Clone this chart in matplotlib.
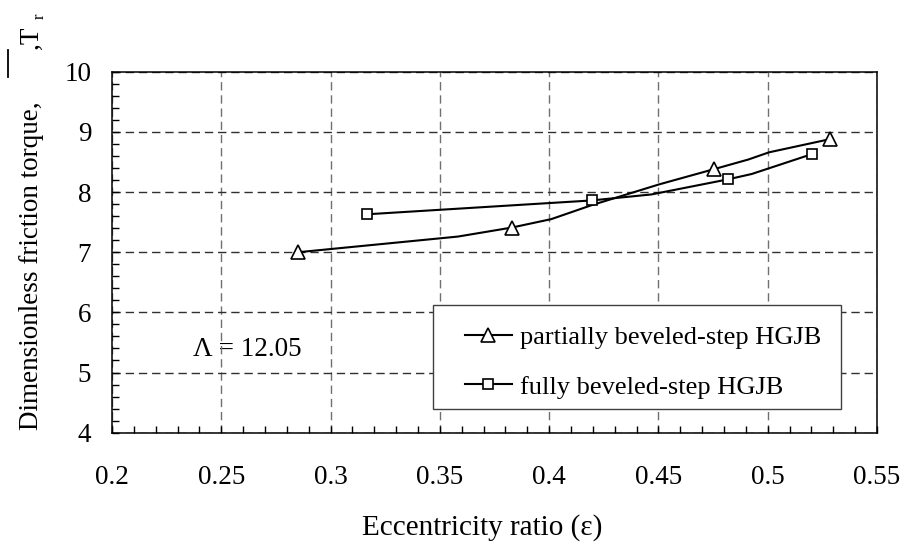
import matplotlib
matplotlib.use("Agg")
import matplotlib.pyplot as plt
from matplotlib.lines import Line2D
from matplotlib.patches import Rectangle
from matplotlib.ticker import MultipleLocator, FixedLocator, FixedFormatter

plt.rcParams['font.family'] = ['Liberation Serif', 'DejaVu Serif']

# Partially beveled-step HGJB: marked points and the drawn curve through them
partial_marker_eps = [0.2853, 0.383, 0.4754, 0.5286]
partial_marker_torque = [7.00, 7.41, 8.38, 8.88]
partial_curve_eps = [0.2853, 0.3583, 0.383, 0.401, 0.4193, 0.4506,
                     0.4754, 0.4911, 0.5006, 0.5286]
partial_curve_torque = [7.00, 7.26, 7.41, 7.55, 7.78, 8.13,
                        8.38, 8.54, 8.66, 8.88]

# Fully beveled-step HGJB
full_marker_eps = [0.3166, 0.4194, 0.4817, 0.5202]
full_marker_torque = [7.63, 7.86, 8.21, 8.63]
full_curve_eps = [0.3166, 0.4194, 0.4468, 0.4817, 0.4927, 0.5202]
full_curve_torque = [7.63, 7.86, 7.96, 8.21, 8.30, 8.63]

series_labels = ['partially beveled-step HGJB', 'fully beveled-step HGJB']

x_ticks = [0.2, 0.25, 0.3, 0.35, 0.4, 0.45, 0.5, 0.55]
x_tick_labels = ['0.2', '0.25', '0.3', '0.35', '0.4', '0.45', '0.5', '0.55']
y_ticks = [4, 5, 6, 7, 8, 9, 10]
y_tick_labels = ['4', '5', '6', '7', '8', '9', '10']

FS = 19.5
W, H = 901, 542

fig = plt.figure(figsize=(W / 100, H / 100), dpi=100)
ax = fig.add_axes([112 / W, 1 - 432.7 / H, (877 - 112) / W, (432.7 - 71.7) / H])

line_kw = dict(color='black', lw=1.5)
mk_kw = dict(mfc='white', mec='black', mew=1.2)

ax.plot(partial_curve_eps, partial_curve_torque, zorder=3, **line_kw)
ax.plot(partial_marker_eps, partial_marker_torque, ls='none', marker='^',
        ms=10, zorder=4, **mk_kw)
ax.plot(full_curve_eps, full_curve_torque, zorder=3, **line_kw)
ax.plot(full_marker_eps, full_marker_torque, ls='none', marker='s',
        ms=7.5, zorder=4, **mk_kw)

ax.set_xlim(0.2, 0.55)
ax.set_ylim(4, 10)
ax.xaxis.set_major_locator(FixedLocator(x_ticks))
ax.xaxis.set_major_formatter(FixedFormatter(x_tick_labels))
ax.yaxis.set_major_locator(FixedLocator(y_ticks))
ax.yaxis.set_major_formatter(FixedFormatter(y_tick_labels))
ax.xaxis.set_minor_locator(MultipleLocator(0.01))
ax.yaxis.set_minor_locator(MultipleLocator(0.2))

ax.tick_params(which='both', direction='in', top=False, right=False,
               width=1.0, color='black')
ax.tick_params(which='major', length=5)
ax.tick_params(which='minor', length=5)
ax.tick_params(axis='x', which='major', pad=23, labelsize=FS)
ax.tick_params(axis='y', which='major', pad=15, labelsize=FS)

for sp in ax.spines.values():
    sp.set_linewidth(1.1)
    sp.set_color('black')

ax.set_axisbelow(True)
ax.xaxis.grid(True, which='major', color='#707070', lw=1.0, ls=(0, (6, 3.5)))
ax.yaxis.grid(True, which='major', color='#303030', lw=1.0, ls=(0, (6, 3.5)))

# Parameter annotation
ax.text(0.2372, 5.39, '\u039b = 12.05', ha='left', va='center',
        fontsize=FS, zorder=0.3)

# Legend box and entries
ax.add_patch(Rectangle(((433 - 112) / 765, (432.7 - 409) / 361),
                       (841 - 433) / 765, (409 - 305) / 361,
                       transform=ax.transAxes, facecolor='white',
                       edgecolor='#404040', lw=1.0, zorder=5))
handles = [
    Line2D([], [], marker='^', ms=10, **line_kw, **mk_kw),
    Line2D([], [], marker='s', ms=7.5, **line_kw, **mk_kw),
]
leg = ax.legend(handles, series_labels, loc='center left',
                bbox_to_anchor=((465 - 112) / 765, (432.7 - 362) / 361),
                frameon=False, fontsize=19, borderpad=0, borderaxespad=0,
                handlelength=1.78, handletextpad=0.3, labelspacing=1.0,
                numpoints=1)
leg.set_zorder(6)

# Axis titles
fig.text(482 / W, 1 - 528 / H, 'Eccentricity ratio (\u03b5)', ha='center',
         va='center', fontsize=21)

fig.text(38 / W, 1 - 430 / H, 'Dimensionless friction torque,',
         rotation=90, rotation_mode='anchor', ha='left', va='baseline',
         fontsize=FS)
fig.add_artist(Line2D([8 / W, 8 / W], [1 - 77 / H, 1 - 50 / H],
                      color='black', lw=1.3, transform=fig.transFigure))
fig.text(38 / W, 1 - 49 / H, ',T', rotation=90, rotation_mode='anchor',
         ha='left', va='baseline', fontsize=FS)
fig.text(44 / W, 1 - 19 / H, 'r', rotation=90, rotation_mode='anchor',
         ha='left', va='baseline', fontsize=12)

fig.savefig('out.png', dpi=100)
